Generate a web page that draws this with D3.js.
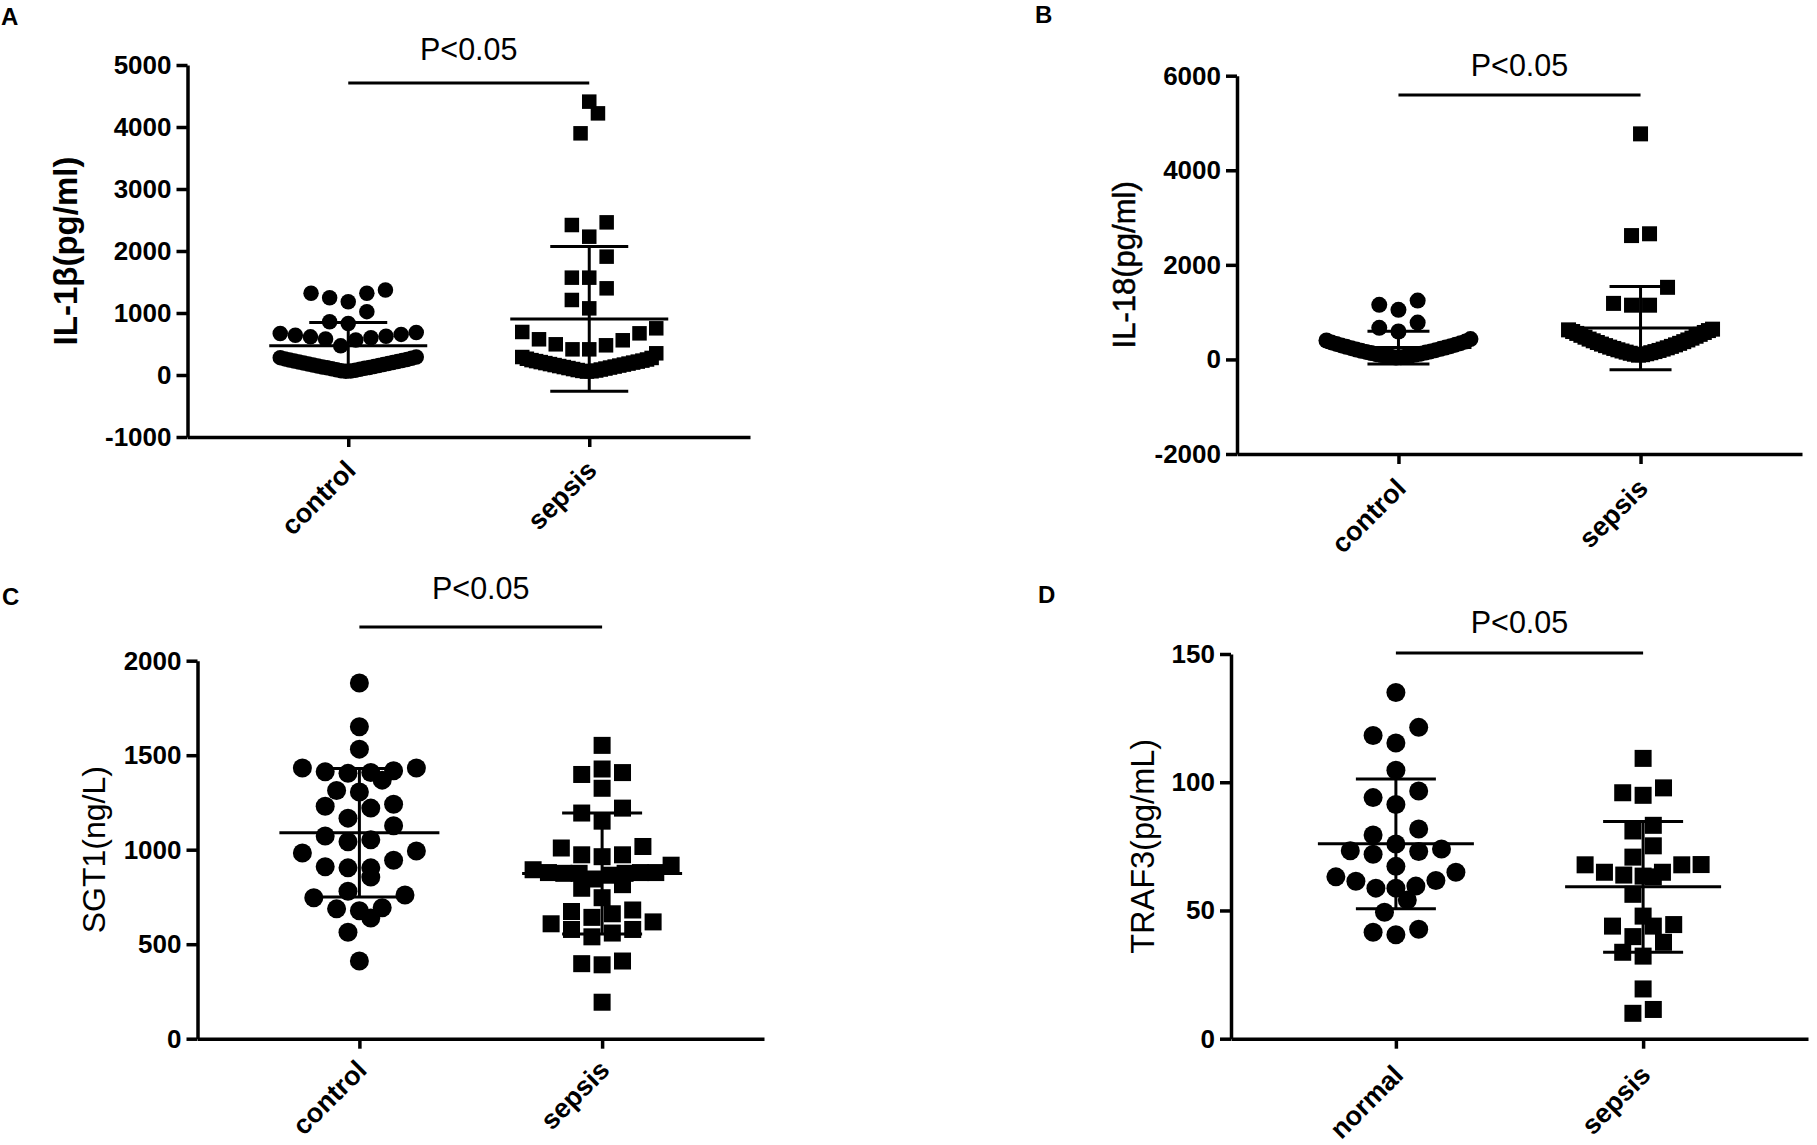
<!DOCTYPE html>
<html>
<head>
<meta charset="utf-8">
<script src="https://cdn.jsdelivr.net/npm/d3@7"></script>
<style>
  body { margin: 0; background: #fff; }
  svg { display: block; }
  text { font-family: "Liberation Sans", Arial, Helvetica, sans-serif; fill: #000; }
</style>
</head>
<body>
<div id="chart"></div>
<script>
// categories
var catsABC = ['control', 'sepsis'];
var catsD = ['normal', 'sepsis'];

// tick values
var ticksA = [-1000, 0, 1000, 2000, 3000, 4000, 5000];
var ticksB = [-2000, 0, 2000, 4000, 6000];
var ticksC = [0, 500, 1000, 1500, 2000];
var ticksD = [0, 50, 100, 150];

// A: IL-1beta (pg/ml)
var aControl = [60, 64, 70, 78, 85, 92, 100, 108, 115, 122, 130, 138, 146, 154, 162,
    170, 178, 186, 194, 202, 210, 218, 226, 234, 242, 250, 260, 270, 280, 292,
    470, 565, 580, 600, 615, 625, 640, 655, 670, 685,
    830, 860, 1022, 1183, 1247, 1317, 1317, 1371];
var aSepsis = [55, 60, 66, 72, 80, 88, 96, 104, 112, 120, 128, 136, 144, 152, 160,
    168, 176, 184, 192, 200, 208, 216, 224, 232, 240, 250, 262, 275, 290, 350,
    414, 414, 479, 495, 560, 576, 672, 694, 753,
    1075, 1210, 1398, 1570, 1570, 1909, 2231, 2419, 2462, 3898, 4220, 4409];
var aMean = [470, 905];
var aSd = [375, 1168];

// B: IL-18 (pg/ml)
var bControl = [40, 48, 56, 64, 72, 82, 92, 102, 112, 122, 134, 146, 158, 170, 182,
    196, 210, 224, 238, 252, 266, 280, 296, 312, 328, 344, 360, 378, 400, 430,
    590, 668, 780, 1049, 1154, 1245];
var bSepsis = [90, 100, 110, 120, 130, 142, 154, 166, 178, 190, 204, 218, 232, 246,
    260, 276, 292, 308, 324, 340, 358, 376, 394, 412, 430, 450, 470, 490, 510, 530,
    550, 570, 590, 610, 625, 640,
    1147, 1147, 1185, 1525, 2619, 2657, 4770];
var bMean = [250, 662];
var bSd = [345, 879];

// C: SGT1 (ng/L)
var cControl = [411, 563, 638, 677, 687, 693, 746, 760, 780, 855, 904, 904, 910, 944,
    983, 993, 1042, 1052, 1072, 1127, 1167, 1220, 1230, 1240, 1305, 1313, 1368,
    1404, 1408, 1412, 1418, 1432, 1432, 1532, 1651, 1882];
var cSepsis = [193, 391, 397, 411, 539, 559, 578, 578, 608, 618, 642, 661, 673, 681,
    746, 796, 815, 845, 865, 875, 875, 875, 879, 879, 879, 894, 918, 963, 973, 973,
    1009, 1017, 1151, 1194, 1220, 1325, 1398, 1408, 1427, 1552];
var cMean = [1090, 874];
var cSd = [340, 320];

// D: TRAF3 (pg/mL)
var dNormal = [40.5, 41.5, 42.7, 49.3, 54.1, 58.7, 58.7, 59.5, 61.4, 61.7, 63.1, 64.9,
    67.2, 71.9, 73, 73.3, 74, 75.9, 79.4, 81.8, 91.3, 94, 96.6, 104.7, 115.3, 118.2,
    121.4, 135];
var dSepsis = [9.9, 11.4, 19.4, 32.2, 33.7, 37.6, 39.8, 43.9, 43.9, 44.5, 47.8, 56.3,
    63.1, 63.4, 63.8, 64.9, 64.9, 67.8, 67.8, 67.9, 70.8, 75.2, 81, 83.2, 94.9, 95.9,
    97.8, 109.3];
var dMean = [76, 59.2];
var dSd = [25.3, 25.5];

// Panel layout (pixel geometry only)
var panels = [
    { letter: 'A', lx: 1, ly: 25, groups: [aControl, aSepsis], cats: catsABC, mean: aMean, sd: aSd,
      domain: [-1000, 5000], ticks: ticksA, title: 'IL-1\u03b2(pg/ml)', titleWeight: 'bold', titleStroke: 0,
      titleSize: 33, titleX: 77, x0: 187.5, x1: 750, yTop: 65, yBot: 437,
      sigY: 83, pY: 60, labDy: 35, diam: [15.5, 14.5], bins: [340, 340], half: [68, 67],
      meanHalf: 79, capHalf: 39 },
    { letter: 'B', lx: 1035, ly: 23, groups: [bControl, bSepsis], cats: catsABC, mean: bMean, sd: bSd,
      domain: [-2000, 6000], ticks: ticksB, title: 'IL-18(pg/ml)', titleWeight: 'normal', titleStroke: 0.5,
      titleSize: 31, titleX: 1134.5, x0: 1237, x1: 1802, yTop: 75.7, yBot: 454,
      sigY: 95, pY: 76, labDy: 36, diam: [16, 15], bins: [420, 600], half: [72, 72],
      meanHalf: 73, capHalf: 31 },
    { letter: 'C', lx: 2, ly: 605, groups: [cControl, cSepsis], cats: catsABC, mean: cMean, sd: cSd,
      domain: [0, 2000], ticks: ticksC, title: 'SGT1(ng/L)', titleWeight: 'normal', titleStroke: 0,
      titleSize: 32, titleX: 105, x0: 197.5, x1: 764, yTop: 660.7, yBot: 1038.7,
      sigY: 627, pY: 599, labDy: 33, diam: [19, 17], bins: [95, 95], half: [58, 69],
      meanHalf: 80, capHalf: 40 },
    { letter: 'D', lx: 1038, ly: 603, groups: [dNormal, dSepsis], cats: catsD, mean: dMean, sd: dSd,
      domain: [0, 150], ticks: ticksD, title: 'TRAF3(pg/mL)', titleWeight: 'normal', titleStroke: 0,
      titleSize: 32.5, titleX: 1154, x0: 1231, x1: 1808, yTop: 654, yBot: 1038.7,
      sigY: 653, pY: 633, labDy: 38, diam: [19, 17], bins: [7, 7], half: [60, 58],
      meanHalf: 78, capHalf: 40 }
];

var W = 1817, H = 1145;
var AXIS_W = 3.5;
var BAR_W = 3;

var svg = d3.select('#chart').append('svg')
    .attr('width', W).attr('height', H)
    .attr('viewBox', [0, 0, W, H]);
svg.append('rect').attr('width', W).attr('height', H).attr('fill', '#fff');

// GraphPad-like scatter: sorted values grouped in rows, lowest in the middle of a row
function layoutRows(values, bin, diam, maxHalf) {
    var sorted = values.slice().sort(function (a, b) { return a - b; });
    var rows = [];
    var cur = null;
    sorted.forEach(function (v) {
        if (!cur || v - cur.start > bin) { cur = { start: v, pts: [] }; rows.push(cur); }
        cur.pts.push(v);
    });
    var out = [];
    rows.forEach(function (row) {
        var n = row.pts.length;
        var s = n > 1 ? Math.min(1.2 * diam, 2 * maxHalf / (n - 1)) : 0;
        var offs = d3.range(n).map(function (k) { return (k - (n - 1) / 2) * s; });
        offs.sort(function (a, b) { return Math.abs(a) - Math.abs(b) || a - b; });
        row.pts.forEach(function (v, k) { out.push({ v: v, dx: offs[k] }); });
    });
    return out;
}

panels.forEach(function (p) {
    var g = svg.append('g').attr('class', 'panel-' + p.letter);

    var y = d3.scaleLinear().domain(p.domain).range([p.yBot, p.yTop]);
    var x = d3.scalePoint().domain(p.cats).range([p.x0, p.x1]).padding(0.667);

    // y axis
    var ya = g.append('g')
        .attr('transform', 'translate(' + p.x0 + ',0)')
        .call(d3.axisLeft(y).tickValues(p.ticks).tickSize(11).tickSizeOuter(0).tickPadding(5)
            .tickFormat(function (d) { return String(d); }));
    ya.select('.domain').attr('stroke-width', AXIS_W);
    ya.selectAll('.tick line').attr('stroke-width', AXIS_W);
    ya.selectAll('.tick text')
        .attr('font-size', 26).attr('font-weight', 'bold')
        .attr('font-family', '"Liberation Sans", Arial, sans-serif');

    // x axis
    var xa = g.append('g')
        .attr('transform', 'translate(0,' + p.yBot + ')')
        .call(d3.axisBottom(x).tickSize(10).tickSizeOuter(0));
    xa.select('.domain').attr('stroke-width', AXIS_W);
    xa.selectAll('.tick line').attr('stroke-width', AXIS_W);
    xa.selectAll('.tick text').remove();

    g.selectAll('text.xlab')
        .data(p.cats)
        .join('text')
        .attr('class', 'xlab')
        .attr('text-anchor', 'end')
        .attr('font-size', 27)
        .attr('font-weight', 'bold')
        .attr('transform', function (d) {
            return 'translate(' + (x(d) + 9) + ',' + (p.yBot + p.labDy) + ') rotate(-45)';
        })
        .text(function (d) { return d; });

    // y title
    g.append('text')
        .attr('text-anchor', 'middle')
        .attr('font-size', p.titleSize)
        .attr('font-weight', p.titleWeight)
        .attr('stroke', p.titleStroke ? '#000' : null)
        .attr('stroke-width', p.titleStroke || null)
        .attr('transform', 'translate(' + p.titleX + ',' + ((p.yTop + p.yBot) / 2) + ') rotate(-90)')
        .text(p.title);

    // panel letter
    g.append('text')
        .attr('x', p.lx).attr('y', p.ly)
        .attr('font-size', 24).attr('font-weight', 'bold')
        .text(p.letter);

    // points
    p.groups.forEach(function (vals, gi) {
        var cx = x(p.cats[gi]);
        var pts = layoutRows(vals, p.bins[gi], p.diam[gi], p.half[gi]);
        var d = p.diam[gi];
        if (gi === 0) {
            g.append('g').selectAll('circle')
                .data(pts)
                .join('circle')
                .attr('cx', function (q) { return cx + q.dx; })
                .attr('cy', function (q) { return y(q.v); })
                .attr('r', d / 2)
                .attr('fill', '#000');
        } else {
            g.append('g').selectAll('rect')
                .data(pts)
                .join('rect')
                .attr('x', function (q) { return cx + q.dx - d / 2; })
                .attr('y', function (q) { return y(q.v) - d / 2; })
                .attr('width', d).attr('height', d)
                .attr('fill', '#000');
        }
    });

    // mean +/- SD
    var stats = p.cats.map(function (c, i) { return { c: c, m: p.mean[i], s: p.sd[i] }; });
    var sg = g.append('g').attr('stroke', '#000').attr('stroke-width', BAR_W);
    stats.forEach(function (st) {
        var cx = x(st.c);
        sg.append('line')
            .attr('x1', cx - p.meanHalf).attr('x2', cx + p.meanHalf)
            .attr('y1', y(st.m)).attr('y2', y(st.m));
        sg.append('line')
            .attr('x1', cx).attr('x2', cx)
            .attr('y1', y(st.m - st.s)).attr('y2', y(st.m + st.s));
        [st.m - st.s, st.m + st.s].forEach(function (v) {
            sg.append('line')
                .attr('x1', cx - p.capHalf).attr('x2', cx + p.capHalf)
                .attr('y1', y(v)).attr('y2', y(v));
        });
    });

    // significance bar
    var xa0 = x(p.cats[0]), xa1 = x(p.cats[1]);
    g.append('line')
        .attr('x1', xa0).attr('x2', xa1)
        .attr('y1', p.sigY).attr('y2', p.sigY)
        .attr('stroke', '#000').attr('stroke-width', BAR_W);
    g.append('text')
        .attr('x', (xa0 + xa1) / 2).attr('y', p.pY)
        .attr('text-anchor', 'middle')
        .attr('font-size', 30.5)
        .text('P<0.05');
});
</script>
</body>
</html>
